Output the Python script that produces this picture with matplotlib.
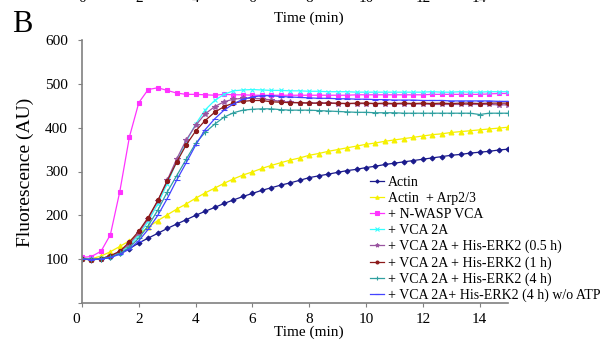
import matplotlib
matplotlib.use("Agg")
import matplotlib.pyplot as plt
import matplotlib.transforms as mtransforms

plt.rcParams['font.family'] = ['Liberation Serif', 'DejaVu Serif']

# time points (min), one reading every 20 s
time = [0, 0.33, 0.67, 1, 1.33, 1.67, 2, 2.33, 2.67, 3,
        3.33, 3.67, 4, 4.33, 4.67, 5, 5.33, 5.67, 6, 6.33,
        6.67, 7, 7.33, 7.67, 8, 8.33, 8.67, 9, 9.33, 9.67,
        10, 10.33, 10.67, 11, 11.33, 11.67, 12, 12.33, 12.67, 13,
        13.33, 13.67, 14, 14.33, 14.67, 15]

actin = [100, 99, 100, 104, 113, 124, 137, 148, 159, 170,
         180, 190, 200, 209, 218, 227, 235, 243, 250, 257,
         263, 269, 274, 280, 286, 290, 294, 298, 302, 305,
         309, 312, 316, 319, 322, 325, 328, 331, 334, 337,
         339, 342, 344, 346, 349, 351]
arp23 = [102, 101, 107, 117, 129, 142, 157, 173, 188, 201,
         214, 226, 239, 251, 262, 273, 283, 292, 299, 307,
         314, 320, 326, 331, 337, 341, 346, 350, 354, 358,
         362, 365, 369, 372, 375, 378, 381, 384, 386, 389,
         391, 393, 395, 397, 399, 401]
nwasp = [104, 106, 118, 156, 254, 379, 457, 487, 491, 485,
         479, 476, 476, 475, 474, 476, 475, 475, 474, 474,
         474, 474, 474, 474, 474, 474, 474, 474, 474, 475,
         475, 475, 475, 475, 475, 475, 475, 476, 476, 476,
         476, 476, 476, 477, 478, 478]
vca2a = [101, 100, 102, 106, 115, 131, 155, 186, 226, 272,
         322, 368, 408, 440, 462, 476, 484, 486, 487, 486,
         485, 485, 484, 484, 483, 483, 482, 482, 482, 481,
         481, 481, 481, 481, 481, 481, 481, 482, 481, 481,
         482, 481, 481, 482, 482, 482]
erk_05h = [100, 99, 101, 107, 117, 135, 160, 192, 233, 280,
           328, 372, 405, 431, 448, 459, 465, 467, 467, 466,
           463, 460, 458, 457, 456, 456, 456, 455, 455, 455,
           455, 455, 454, 454, 454, 454, 454, 453, 453, 453,
           453, 453, 453, 453, 452, 452]
erk_1h = [100, 99, 101, 108, 118, 139, 164, 195, 234, 278,
          321, 361, 392, 416, 435, 448, 456, 460, 462, 462,
          459, 458, 457, 457, 456, 456, 456, 456, 455, 456,
          456, 455, 456, 455, 456, 455, 456, 455, 456, 455,
          456, 456, 455, 456, 456, 456]
erk_4h = [101, 100, 101, 105, 113, 127, 148, 176, 212, 253,
          290, 328, 364, 389, 408, 424, 434, 440, 442, 443,
          443, 441, 440, 440, 440, 439, 438, 437, 436, 435,
          435, 434, 434, 434, 433, 433, 433, 433, 433, 433,
          433, 433, 430, 433, 433, 433]
erk_4h_noatp = [100, 99, 100, 104, 111, 123, 142, 168, 200, 238,
                280, 320, 360, 395, 420, 440, 454, 465, 470, 473,
                473, 471, 470, 469, 468, 467, 467, 466, 466, 465,
                465, 464, 464, 463, 463, 463, 462, 462, 462, 461,
                461, 461, 461, 461, 460, 460]

labels = ['Actin', 'Actin  + Arp2/3', '+ N-WASP VCA', '+ VCA 2A',
          '+ VCA 2A + His-ERK2 (0.5 h)', '+ VCA 2A + His-ERK2 (1 h)',
          '+ VCA 2A + His-ERK2 (4 h)', '+ VCA 2A+ His-ERK2 (4 h) w/o ATP']
series = [actin, arp23, nwasp, vca2a, erk_05h, erk_1h, erk_4h, erk_4h_noatp]
colors = ['#1a1a8c', '#f5f000', '#ff33ff', '#33ffff',
          '#9a55a0', '#8c1a1a', '#30a0a0', '#4444ff']
markers = ['D', '^', 's', 'x', '*', 'o', '+', '_']
msizes = [2.5, 3.5, 3.5, 3.5, 4, 3, 4, 4]

fs = 11

fig = plt.figure(figsize=(6.06, 3.45), dpi=100)
ax = fig.add_axes([82 / 606, 1 - 303 / 345, 426 / 606, 263 / 345])

for y, lab, c, m, ms in zip(series, labels, colors, markers, msizes):
    ax.plot(time, y, color=c, marker=m, markersize=ms, linewidth=0.9,
            markeredgewidth=0.8, label=lab)

ax.set_xlim(0, 15)
ax.set_ylim(0, 600)
ax.set_xticks(range(0, 15, 2))
ax.set_yticks(range(0, 601, 100))
ax.set_yticklabels([''] + [str(v) for v in range(100, 601, 100)])
for s in ['top', 'right']:
    ax.spines[s].set_visible(False)
for s in ['left', 'bottom']:
    ax.spines[s].set_color('#808080')
    ax.spines[s].set_linewidth(1.2)
ax.tick_params(direction='out', length=3, color='#808080', labelsize=fs)
ax.tick_params(axis='y', pad=7)
ax.tick_params(axis='x', pad=4)
# the x "0" sits a little left of its tick, as in the original
ax.get_xticklabels()[0].set_transform(
    ax.get_xticklabels()[0].get_transform()
    + mtransforms.ScaledTranslation(-6 / 100, 0, fig.dpi_scale_trans))
ax.set_xlabel('Time (min)', fontsize=fs)
ax.xaxis.set_label_coords(8 / 15, (303 - 326) / 263)
ax.set_ylabel('Fluorescence (AU)', fontsize=14)
ax.yaxis.set_label_coords((33.5 - 82) / 426, (303 - 172) / 263)

leg = ax.legend(loc='upper left', bbox_to_anchor=(370 / 606, 1 - 176 / 345),
                bbox_transform=fig.transFigure, frameon=False, fontsize=10,
                handlelength=1.0, handletextpad=0.3, labelspacing=0.21,
                borderaxespad=0, borderpad=0, markerscale=0.7)

# panel letter and the clipped labels of the panel above
fig.text(12 / 606, 1 - 10 / 345, 'B', fontsize=22, va='top')
top = mtransforms.blended_transform_factory(ax.transData, fig.transFigure)
for t in range(0, 15, 2):
    ax.text(t, 1 - 2 / 345, str(t), transform=top, ha='center',
            va='baseline', fontsize=fs, clip_on=False)
ax.text(8.0, 1 - 18 / 345, 'Time (min)', transform=top, ha='center',
        va='center', fontsize=fs, clip_on=False)

fig.savefig('out.png', dpi=100)
